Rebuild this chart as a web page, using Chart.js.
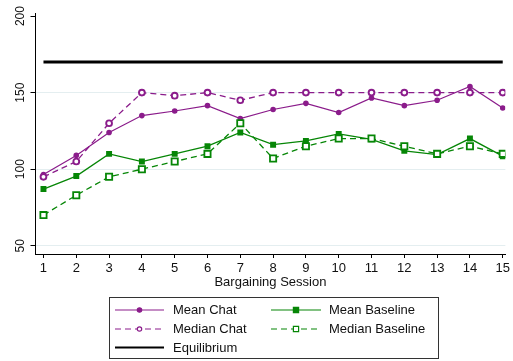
<!DOCTYPE html>
<html>
<head>
<meta charset="utf-8">
<script src="https://cdn.jsdelivr.net/npm/chart.js@4"></script>
<style>
  html, body { margin: 0; padding: 0; background: #fff; }
  #wrap { width: 513px; height: 361px; }
</style>
</head>
<body>
<div id="wrap"><canvas id="chart" width="513" height="361"></canvas></div>
<script>
// Values.
const sessions = [1, 2, 3, 4, 5, 6, 7, 8, 9, 10, 11, 12, 13, 14, 15];
const meanChat = [96.5, 109, 124, 135, 138, 141.5, 133, 139, 143, 137, 146.5, 141.5, 145, 154, 140];
const medianChat = [95, 105, 130, 150, 148, 150, 145, 150, 150, 150, 150, 150, 150, 150, 150];
const meanBaseline = [87, 95.5, 110, 105, 110, 115, 124, 116, 118.5, 123, 119.5, 112, 109.5, 120, 108.5];
const medianBaseline = [70, 83, 95, 100, 105, 110, 130, 107, 115, 120, 120, 115, 110, 115, 110];
const equilibrium = [170, 170, 170, 170, 170, 170, 170, 170, 170, 170, 170, 170, 170, 170, 170];
const yTicks = [50, 100, 150, 200];

const PURPLE = "#8b1c8b";
const GREEN = "#068606";
const FONT = "'Liberation Sans', Arial, Helvetica, sans-serif";

const pts = (arr) => arr.map((v, i) => ({ x: sessions[i], y: v }));

// Stata-style boxed legend, two columns, drawn under the plot.
const boxLegend = {
  id: "boxLegend",
  afterDraw(chart) {
    const c = chart.ctx;
    const order = ["Mean Chat", "Mean Baseline", "Median Chat", "Median Baseline", "Equilibrium"];
    const rows = [310, 329, 347.5];
    const cols = [{ x0: 115, x1: 164, tx: 173 }, { x0: 271, x1: 321, tx: 329 }];
    c.save();
    c.strokeStyle = "#333";
    c.lineWidth = 1;
    c.strokeRect(109.5, 297.5, 329, 61);
    order.forEach((label, i) => {
      const ds = chart.data.datasets.find((d) => d.label === label);
      const col = cols[i % 2];
      const y = rows[Math.floor(i / 2)];
      c.save();
      c.strokeStyle = ds.borderColor;
      c.lineWidth = label === "Equilibrium" ? 2 : 1.2;
      c.setLineDash(ds.borderDash || []);
      c.beginPath();
      c.moveTo(col.x0, y);
      c.lineTo(col.x1, y);
      c.stroke();
      c.setLineDash([]);
      const mx = (col.x0 + col.x1) / 2;
      if (ds.pointRadius > 0) {
        c.fillStyle = ds.pointBackgroundColor;
        c.strokeStyle = ds.pointBorderColor;
        c.lineWidth = 1.2;
        c.beginPath();
        if (ds.pointStyle === "circle") {
          c.arc(mx, y, 2.2, 0, Math.PI * 2);
        } else {
          c.rect(mx - 2.6, y - 2.6, 5.2, 5.2);
        }
        c.fill();
        c.stroke();
      }
      c.restore();
      c.fillStyle = "#111";
      c.font = "13px " + FONT;
      c.textBaseline = "middle";
      c.textAlign = "left";
      c.fillText(label, col.tx, y + 0.5);
    });
    c.restore();
  },
};

new Chart(document.getElementById("chart"), {
  type: "line",
  plugins: [boxLegend],
  data: {
    datasets: [
      {
        label: "Equilibrium",
        data: pts(equilibrium),
        borderColor: "#000",
        borderWidth: 3,
        pointRadius: 0,
      },
      {
        label: "Median Baseline",
        data: pts(medianBaseline),
        borderColor: GREEN,
        borderWidth: 1.3,
        borderDash: [6, 4],
        pointStyle: "rect",
        pointRadius: 4.4,
        pointBorderWidth: 1.8,
        pointBorderColor: GREEN,
        pointBackgroundColor: "#fff",
      },
      {
        label: "Mean Baseline",
        data: pts(meanBaseline),
        borderColor: GREEN,
        borderWidth: 1.3,
        pointStyle: "rect",
        pointRadius: 4.2,
        pointBorderWidth: 0,
        pointBorderColor: GREEN,
        pointBackgroundColor: GREEN,
      },
      {
        label: "Median Chat",
        data: pts(medianChat),
        borderColor: PURPLE,
        borderWidth: 1.3,
        borderDash: [6, 4],
        pointStyle: "circle",
        pointRadius: 2.9,
        pointBorderWidth: 1.9,
        pointBorderColor: PURPLE,
        pointBackgroundColor: "#fff",
      },
      {
        label: "Mean Chat",
        data: pts(meanChat),
        borderColor: PURPLE,
        borderWidth: 1.2,
        pointStyle: "circle",
        pointRadius: 2.8,
        pointBorderWidth: 0,
        pointBorderColor: PURPLE,
        pointBackgroundColor: PURPLE,
      },
    ],
  },
  options: {
    responsive: false,
    animation: false,
    layout: { padding: { top: 13, right: 1, left: 0, bottom: 71 } },
    plugins: { legend: { display: false }, tooltip: { enabled: false } },
    elements: { line: { tension: 0 } },
    scales: {
      x: {
        type: "linear",
        min: 0.757,
        max: 15.08,
        afterBuildTicks: (s) => { s.ticks = sessions.map((v) => ({ value: v })); },
        afterFit: (s) => { s.height = 36; },
        border: { color: "#000", width: 1 },
        grid: { drawOnChartArea: false, drawTicks: true, tickLength: 4, tickColor: "#000" },
        ticks: { color: "#111", font: { family: FONT, size: 13 }, padding: 3, maxRotation: 0 },
        title: {
          display: true,
          text: "Bargaining Session",
          color: "#111",
          font: { family: FONT, size: 13 },
          padding: 0,
        },
      },
      y: {
        min: 44.6,
        max: 202,
        afterBuildTicks: (s) => { s.ticks = yTicks.map((v) => ({ value: v })); },
        afterFit: (s) => { s.width = 35.5; },
        border: { color: "#000", width: 1 },
        grid: {
          color: (ctx) => (ctx.tick && ctx.tick.value === 200 ? "rgba(0,0,0,0)" : "#e4eef0"),
          lineWidth: 1,
          drawTicks: true,
          tickLength: 5,
          tickColor: "#000",
        },
        ticks: {
          color: "#111",
          font: { family: FONT, size: 12 },
          minRotation: 90,
          maxRotation: 90,
          crossAlign: "center",
          padding: 0,
        },
      },
    },
  },
});
</script>
</body>
</html>
